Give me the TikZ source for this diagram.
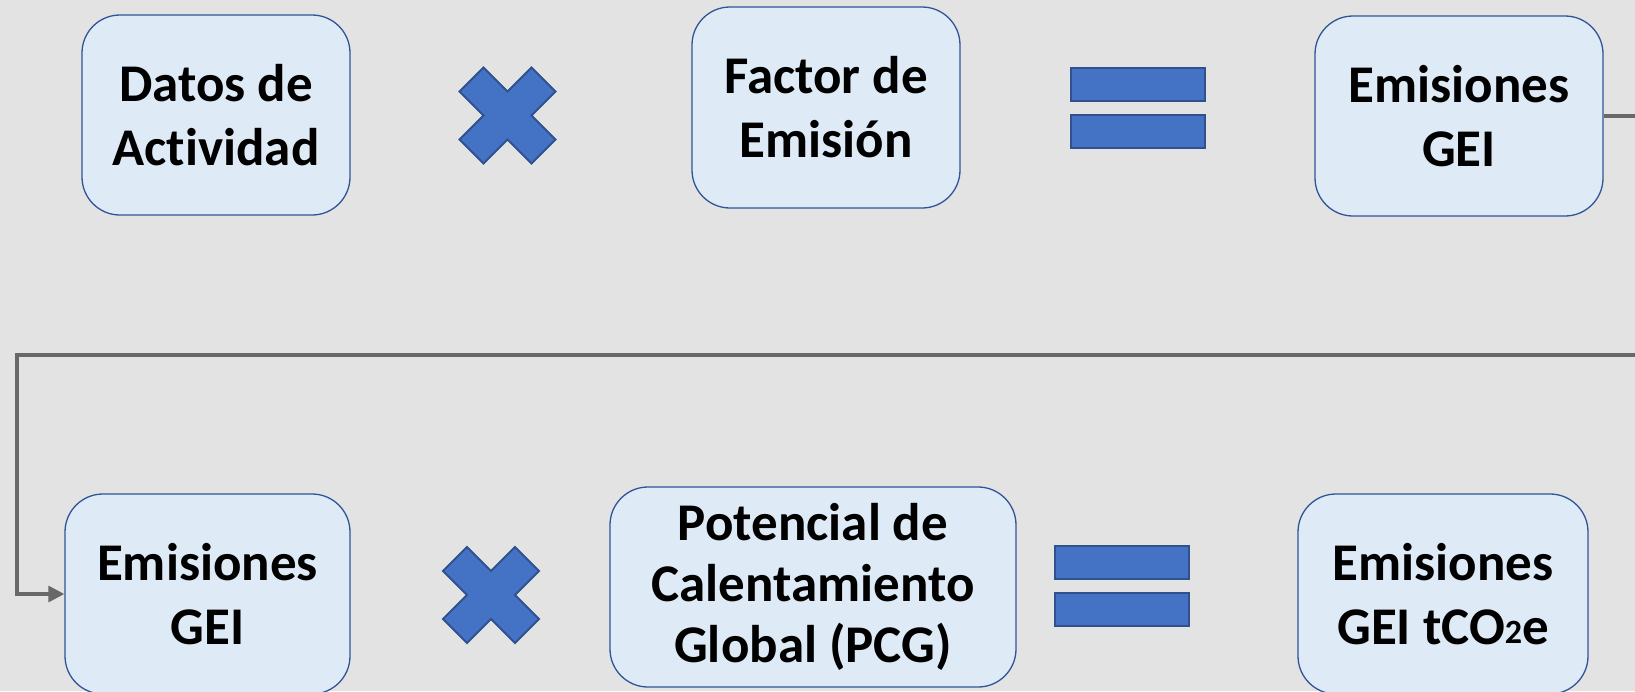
\documentclass[tikz,border=0pt]{standalone}
\usepackage{fontspec}
\setmainfont{Carlito}[Ligatures=NoCommon]
\usetikzlibrary{arrows.meta}
\definecolor{bgc}{RGB}{227,227,227}
\definecolor{boxfill}{RGB}{222,235,247}
\definecolor{boxdraw}{RGB}{47,85,151}
\definecolor{opfill}{RGB}{68,114,196}
\definecolor{opdraw}{RGB}{47,82,143}
\definecolor{conngray}{RGB}{104,104,104}
\begin{document}
\begin{tikzpicture}[x=1pt,y=-1pt,
  box/.style={draw=boxdraw,fill=boxfill,line width=1.3pt,rounded corners=38pt,
    inner sep=0pt,align=center,font=\fontsize{53}{64}\selectfont\bfseries},
  opshape/.style={fill=opfill,draw=opdraw,line width=2pt},
  connline/.style={draw=conngray,line width=3.2pt,
    -{Triangle[length=16pt,width=16pt]}},
  mulx/.pic={\path[opshape] (-24,-48)--(0,-24)--(24,-48)--(48,-24)--(24,0)--(48,24)
     --(24,48)--(0,24)--(-24,48)--(-48,24)--(-24,0)--(-48,-24)--cycle;},
  eqsign/.pic={\path[opshape] (-67,-40) rectangle (67,-7);
     \path[opshape] (-67,7) rectangle (67,40);}]
\useasboundingbox (0,0) rectangle (1635,691);
\fill[bgc] (0,0) rectangle (1635,691);
\clip (0,0) rectangle (1635,691);
% row 1
\node[box,minimum width=268pt,minimum height=200pt] (b1) at (216,115) {Datos de\\Actividad};
\pic at (507.5,115.5) {mulx};
\node[box,minimum width=268pt,minimum height=201pt] (b2) at (826,107.5) {Factor de\\Emisión};
\pic at (1137.5,108) {eqsign};
\node[box,minimum width=288pt,minimum height=200pt] (b3) at (1459,116) {Emisiones\\GEI};
% row 2
\node[box,minimum width=285pt,minimum height=200pt] (b4) at (207.5,594) {Emisiones\\GEI};
\pic at (491,595) {mulx};
\node[box,minimum width=406pt,minimum height=200pt,
  font=\fontsize{53}{61}\selectfont\bfseries] (b5) at (813,587) {Potencial de\\Calentamiento\\Global (PCG)};
\pic at (1121.5,586) {eqsign};
\node[box,minimum width=290pt,minimum height=200pt] (b6) at (1443,594)
  {Emisiones\\GEI tCO\raisebox{1pt}{\fontsize{34}{34}\selectfont 2}e};
% connector
\coordinate (r) at (1665,355);
\coordinate (l) at (17,355);
\draw[connline] (b3.east) -| (r) -- (l) |- (b4.west);
\end{tikzpicture}
\end{document}
